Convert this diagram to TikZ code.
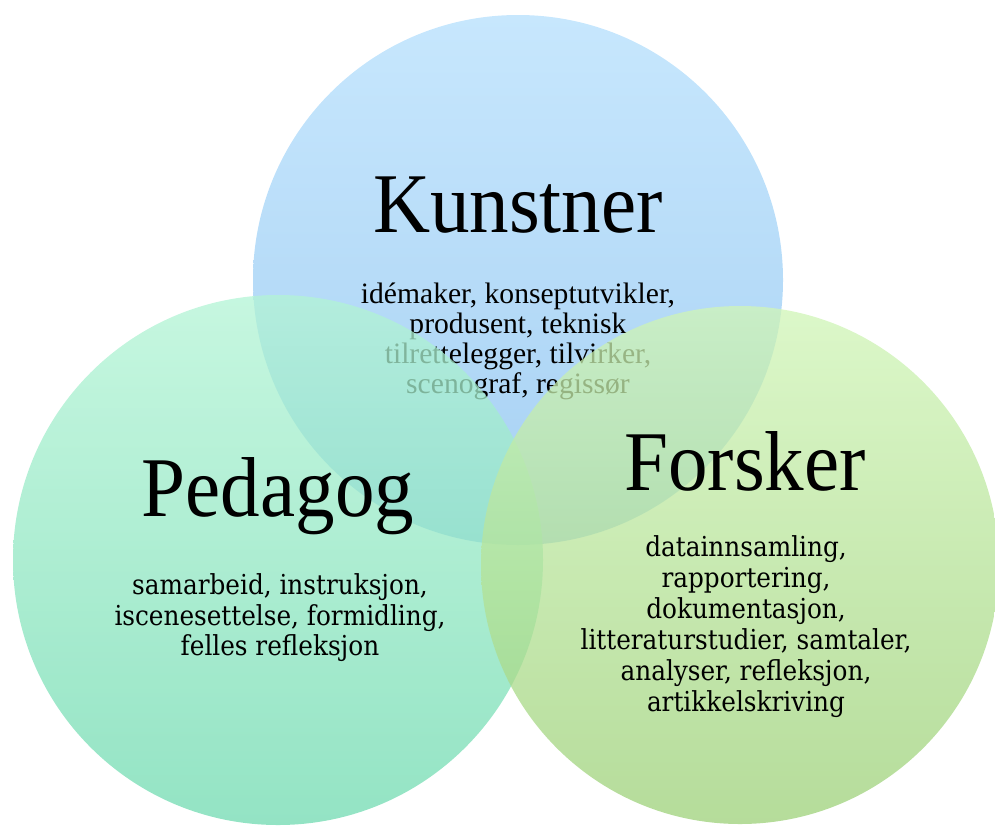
\documentclass[tikz,border=0pt]{standalone}
\usepackage{fontspec}
\setmainfont{Liberation Serif}
\newfontfamily\titlefont{Liberation Serif}[FakeStretch=0.93]
\newfontfamily\listfont{DejaVu Serif Condensed}

\definecolor{kunsttop}{HTML}{C7E7FD}
\definecolor{kunstbot}{HTML}{A6D0F3}
\definecolor{pedtop}{HTML}{B3F4D5}
\definecolor{pedbot}{HTML}{6FDAB0}
\definecolor{forsktop}{HTML}{D0F5B7}
\definecolor{forskbot}{HTML}{9CD078}

\tikzset{
  role/.style={font=\titlefont\fontsize{85}{90}\selectfont},
  tasks/.style={align=center, inner sep=0pt},
}

\begin{document}
\begin{tikzpicture}[x=1pt, y=-1pt]
  \useasboundingbox (0,0) rectangle (995,825);

  % Kunstner: the back circle, drawn solid
  \shade[top color=kunsttop, bottom color=kunstbot] (518,280) circle (265);
  \node[role] (kunstner) at (518,205) {Kunstner};
  \node[tasks, font=\fontsize{29.6}{30}\selectfont] (kunstnerjobb) at (518,341)
    {idémaker, konseptutvikler,\\produsent, teknisk\\tilrettelegger, tilvirker,\\scenograf, regissør};

  % the two lower circles lie over it, see-through
  \shade[top color=pedtop, bottom color=pedbot, fill opacity=0.75] (278,560) circle (265);
  \shade[top color=forsktop, bottom color=forskbot, fill opacity=0.75] (740,565) circle (259);

  % Pedagog
  \node[role] (pedagog) at (278,496) {Pedagog};
  \node[tasks, font=\listfont\fontsize{27.5}{30.5}\selectfont] (pedagogjobb) at (280,618)
    {samarbeid, instruksjon,\\iscenesettelse, formidling,\\felles refleksjon};

  % Forsker
  \node[role] (forsker) at (745,461) {Forsker};
  \node[tasks, font=\listfont\fontsize{27.5}{31}\selectfont] (forskerjobb) at (746,627)
    {datainnsamling,\\rapportering,\\dokumentasjon,\\litteraturstudier, samtaler,\\analyser, refleksjon,\\artikkelskriving};
\end{tikzpicture}
\end{document}
